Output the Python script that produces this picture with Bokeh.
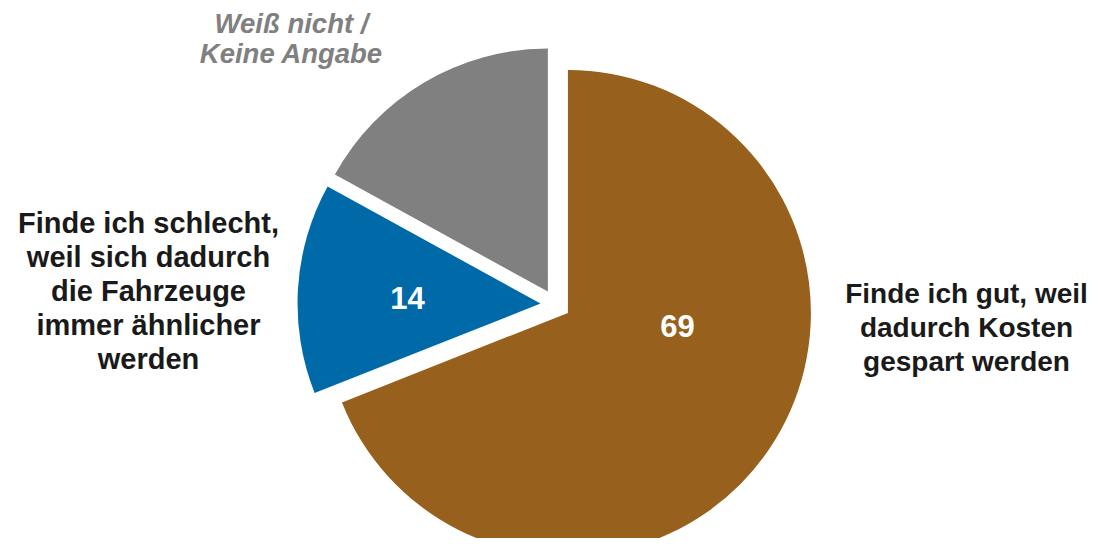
import math
from bokeh.plotting import figure
from bokeh.models import Range1d, ColumnDataSource
from bokeh.core.properties import value
from bokeh.embed import file_html
from bokeh.resources import INLINE

# ---- data ----
categories = ["Finde ich gut, weil dadurch Kosten gespart werden",
              "Finde ich schlecht, weil sich dadurch die Fahrzeuge immer ähnlicher werden",
              "Weiß nicht / Keine Angabe"]
values = [69, 14, 17]
value_labels = ["69", "14", ""]
colors = ["#98601D", "#006AA8", "#808080"]

# ---- layout (screen pixel coordinates) ----
W, H = 1092, 538
def sy(y):  # screen y -> data y
    return H - y

cx, cy = 555, 304
R = 243
EXPLODE = 15

total = sum(values)
starts, ends, xs, ys = [], [], [], []
acc = 0.0
for v in values:
    a0 = acc / total * 2 * math.pi          # clockwise from 12 o'clock
    a1 = (acc + v) / total * 2 * math.pi
    acc += v
    mid = (a0 + a1) / 2
    dx = EXPLODE * math.sin(mid)
    dy = EXPLODE * math.cos(mid)
    xs.append(cx + dx)
    ys.append(sy(cy) + dy)
    starts.append(math.pi / 2 - a1)
    ends.append(math.pi / 2 - a0)

src = ColumnDataSource(dict(x=xs, y=ys, start=starts, end=ends, color=colors))

p = figure(width=W, height=H, output_backend="svg", toolbar_location=None,
           x_range=Range1d(0, W), y_range=Range1d(0, H),
           min_border=0, border_fill_color="white", background_fill_color="white")
p.axis.visible = False
p.grid.visible = False
p.outline_line_color = None

p.wedge(x="x", y="y", radius=R, start_angle="start", end_angle="end",
        fill_color="color", line_color=None, source=src)

# value labels inside slices
val_pos = [(677, 325), (407, 297)]
for (px, py), t in zip(val_pos, value_labels[:2]):
    p.text(x=[px], y=[sy(py)], text=[t], text_color="white",
           text_font=value("Liberation Sans"), text_font_style="bold",
           text_font_size="31px", text_align="center", text_baseline="middle")

# category labels
right_lines = ["Finde ich gut, weil", "dadurch Kosten", "gespart werden"]
left_lines = ["Finde ich schlecht,", "weil sich dadurch", "die Fahrzeuge",
              "immer ähnlicher", "werden"]
top_lines = ["Weiß nicht /", "Keine Angabe"]

def block(lines, x, y0, step, color, style, size):
    p.text(x=[x] * len(lines), y=[sy(y0 + i * step) for i in range(len(lines))],
           text=lines, text_color=color, text_font=value("Liberation Sans"),
           text_font_style=style, text_font_size=size,
           text_align="center", text_baseline="middle")

block(right_lines, 966, 292.5, 34.3, "#1a1a1a", "bold", "28px")
block(left_lines, 148, 222.5, 34, "#1a1a1a", "bold", "29px")
block(top_lines, 291, 22.5, 30.5, "#808080", "bold italic", "27.5px")

open("out.html", "w").write(file_html(p, INLINE))
